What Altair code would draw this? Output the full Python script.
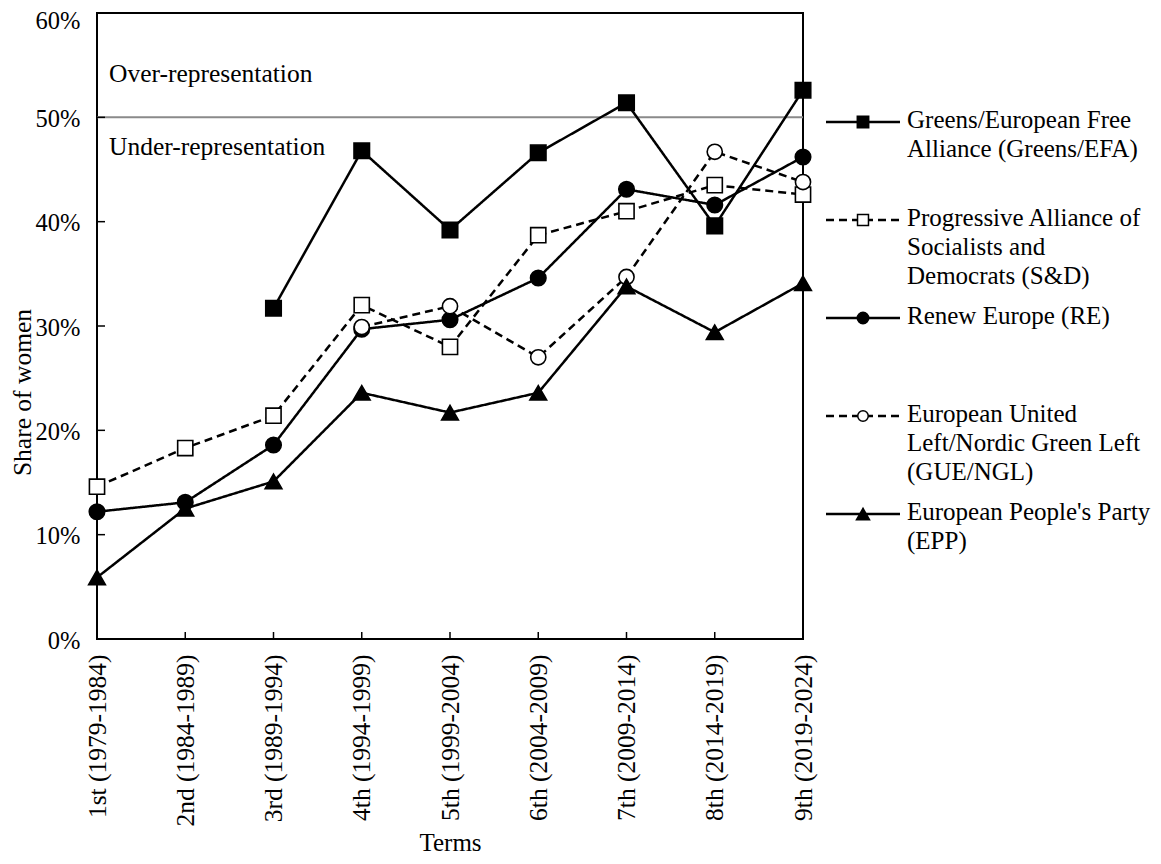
import altair as alt
import pandas as pd

# ---------------- data ----------------
terms = ["1st (1979-1984)", "2nd (1984-1989)", "3rd (1989-1994)", "4th (1994-1999)",
         "5th (1999-2004)", "6th (2004-2009)", "7th (2009-2014)", "8th (2014-2019)",
         "9th (2019-2024)"]

series_names = ["Greens/EFA", "S&D", "RE", "GUE/NGL", "EPP"]
greens = [None, None, 31.7, 46.8, 39.2, 46.6, 51.4, 39.6, 52.6]
sd = [14.6, 18.3, 21.4, 32.0, 28.0, 38.7, 41.0, 43.5, 42.6]
renew = [12.2, 13.1, 18.6, 29.7, 30.6, 34.6, 43.1, 41.6, 46.2]
gue = [None, None, None, 29.9, 31.9, 27.0, 34.7, 46.7, 43.8]
epp = [5.9, 12.5, 15.1, 23.6, 21.7, 23.6, 33.8, 29.4, 34.1]

legend_labels = [
    "Greens/European Free\nAlliance (Greens/EFA)",
    "Progressive Alliance of\nSocialists and\nDemocrats (S&D)",
    "Renew Europe (RE)",
    "European United\nLeft/Nordic Green Left\n(GUE/NGL)",
    "European People's Party\n(EPP)",
]
dashes = ["solid", "dashed", "solid", "dashed", "solid"]
shapes = ["square", "square", "circle", "circle", "triangle-up"]
fills = ["black", "white", "black", "white", "black"]
sizes = [240, 230, 240, 230, 280]
legend_sizes = [130, 120, 130, 110, 170]

y_ticks = [0.0, 0.1, 0.2, 0.3, 0.4, 0.5, 0.6]
inner_y_ticks = [0.1, 0.2, 0.3, 0.4, 0.5]
annotations = ["Over-representation", "Under-representation"]

# ---------------- tables ----------------
all_values = [greens, sd, renew, gue, epp]
rows = []
for i, (name, vals) in enumerate(zip(series_names, all_values)):
    for t, v in zip(terms, vals):
        if v is None:
            continue
        rows.append({"series": name, "term": t, "value": v / 100.0,
                     "dash": dashes[i], "shape": shapes[i], "fill": fills[i],
                     "size": sizes[i], "order": i})
df = pd.DataFrame(rows)

leg = pd.DataFrame({"label": legend_labels, "rank": list(range(5)), "dash": dashes,
                    "shape": shapes, "fill": fills, "size": legend_sizes})

FONT = "Liberation Serif"
FS = 25.5
W, H = 706, 626

x_enc = alt.X("term:O", sort=terms, scale=alt.Scale(type="point", padding=0, domain=terms),
              axis=alt.Axis(title="Terms", labelAngle=-90, ticks=False, domain=False,
                            labelPadding=15, titlePadding=4, labelFont=FONT,
                            labelFontSize=FS, titleFont=FONT, titleFontSize=25,
                            titleFontWeight="normal", labelColor="black",
                            titleColor="black"))
y_enc = alt.Y("value:Q", scale=alt.Scale(domain=[0, 0.6], nice=False, zero=True),
              axis=alt.Axis(title="Share of women", format=".0%", values=y_ticks,
                            ticks=False, domain=False, grid=False, labelPadding=17,
                            labelOffset=alt.condition("datum.value >= 0.6",
                                                      alt.value(8), alt.value(2)),
                            titlePadding=0, titleY=379, labelFont=FONT,
                            labelFontSize=24.5, titleFont=FONT, titleFontSize=25.5,
                            titleFontWeight="normal", labelColor="black",
                            titleColor="black"))

dash_scale = alt.Scale(domain=["solid", "dashed"], range=[[1, 0], [8, 5]])

base = alt.Chart(df)

lines = base.mark_line(color="black", strokeWidth=2.5).encode(
    x=x_enc, y=y_enc, detail="series:N",
    strokeDash=alt.StrokeDash("dash:N", scale=dash_scale, legend=None),
)

points = base.mark_point(filled=True, stroke="black", strokeWidth=1.6, opacity=1).encode(
    x=x_enc, y=y_enc,
    shape=alt.Shape("shape:N", scale=None),
    fill=alt.Fill("fill:N", scale=None),
    size=alt.Size("size:Q", scale=None),
)

ref50 = alt.Chart(pd.DataFrame({"v": [0.5]})).mark_rule(color="#8a8a8a", strokeWidth=2).encode(
    y=alt.Y("v:Q")
)

over = alt.Chart(pd.DataFrame({"t": [annotations[0]], "v": [0.5]})).mark_text(
    align="left", baseline="middle", dy=-43, font=FONT, fontSize=FS, color="black"
).encode(x=alt.value(12), y=alt.Y("v:Q"), text="t:N")

under = alt.Chart(pd.DataFrame({"t": [annotations[1]], "v": [0.5]})).mark_text(
    align="left", baseline="middle", dy=30, font=FONT, fontSize=FS, color="black"
).encode(x=alt.value(12), y=alt.Y("v:Q"), text="t:N")

ytick_rules = alt.Chart(pd.DataFrame({"v": inner_y_ticks})).mark_rule(
    color="black", strokeWidth=1.5
).encode(y=alt.Y("v:Q"), x=alt.value(0), x2=alt.value(8))

xtick_rules = alt.Chart(pd.DataFrame({"term": terms[1:-1]})).mark_rule(
    color="black", strokeWidth=1.5
).encode(x=alt.X("term:O", sort=terms), y=alt.value(H - 7), y2=alt.value(H))

# ---------------- legend ----------------
lbase = alt.Chart(leg).transform_calculate(ly="109 + 98 * datum.rank")

leg_lines = lbase.mark_rule(color="black", strokeWidth=2.5).encode(
    x=alt.value(729), x2=alt.value(803),
    y=alt.Y("ly:Q", scale=None),
    strokeDash=alt.StrokeDash("dash:N", scale=dash_scale, legend=None),
)
leg_points = lbase.mark_point(filled=True, stroke="black", strokeWidth=1.5, opacity=1).encode(
    x=alt.value(766),
    y=alt.Y("ly:Q", scale=None),
    shape=alt.Shape("shape:N", scale=None),
    fill=alt.Fill("fill:N", scale=None),
    size=alt.Size("size:Q", scale=None),
)
leg_text = lbase.mark_text(
    align="left", baseline="top", dy=-14, lineBreak="\n", lineHeight=28.8,
    font=FONT, fontSize=25, color="black"
).encode(x=alt.value(810), y=alt.Y("ly:Q", scale=None), text="label:N")

chart = alt.layer(
    ref50, ytick_rules, xtick_rules, over, under, lines, points,
    leg_lines, leg_points, leg_text
).properties(
    width=W, height=H,
    background="white",
    autosize=alt.AutoSizeParams(type="none"),
    padding={"left": 89, "top": 5, "right": 350, "bottom": 217},
).configure_view(
    stroke="black", strokeWidth=2
)

chart.save("out.html", embed_options={"renderer": "svg", "actions": False})
